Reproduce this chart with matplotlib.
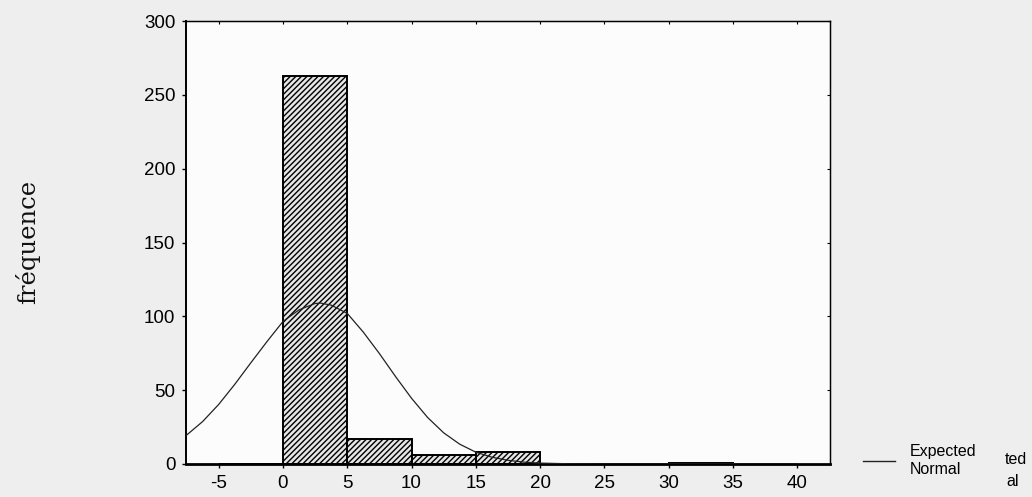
import matplotlib
matplotlib.use("Agg")
import matplotlib.pyplot as plt

# histogram classes (left edge of each 5-wide bin) and counts
bin_left = [-5, 0, 5, 10, 15, 20, 25, 30, 35]
counts = [0, 263, 17, 6, 8, 0, 0, 1, 0]
bin_width = 5

# expected normal curve
curve_x = [-7.5, -6.25, -5, -3.75, -2.5, -1.25, 0, 1.25, 2.5, 2.9, 3.75, 5, 6.25, 7.5,
	8.75, 10, 11.25, 12.5, 13.75, 15, 16.25, 17.5, 18.75, 20, 22.5, 25, 42.5]
curve_y = [19.5, 28.7, 40.3, 53.9, 68.5, 82.8, 96.5, 104.4, 108.7, 109, 107.6, 102, 89.3, 74.8,
	59.3, 44.5, 31.5, 21.1, 13.4, 8.0, 4.6, 2.5, 1.25, 0.6, 0.1, 0, 0]

x_ticks = [-5, 0, 5, 10, 15, 20, 25, 30, 35, 40]
y_ticks = [0, 50, 100, 150, 200, 250, 300]


def main():
	plt.rcParams['hatch.linewidth'] = 1.0
	plt.rcParams['axes.unicode_minus'] = False
	fig = plt.figure(figsize=(10.32, 4.97), dpi=100, facecolor='#eeeeee')
	ax = fig.add_axes([0.1807, 0.0664, 0.6231, 0.8913])
	ax.set_facecolor('#fcfcfc')

	# bars
	ax.bar(bin_left, counts, width=bin_width, align='edge', color='#e6e6e6',
		edgecolor='black', linewidth=1.4, hatch='//////', zorder=2)

	# expected normal
	line, = ax.plot(curve_x, curve_y, color='#222222', linewidth=0.9, zorder=3)

	ax.set_xlim(-7.5, 42.5)
	ax.set_ylim(0, 300)
	ax.set_xticks(x_ticks)
	ax.set_yticks(y_ticks)
	ax.tick_params(axis='both', labelsize=13.5, length=3, width=1, direction='out',
		colors='black', pad=5)
	for lab in ax.get_xticklabels() + ax.get_yticklabels():
		lab.set_fontfamily('Liberation Sans')

	# small inner ticks on top and right like the original
	ax2 = ax.secondary_xaxis('top')
	ax2.set_xticks(x_ticks)
	ax2.tick_params(direction='in', length=2.5, labeltop=False)
	ax3 = ax.secondary_yaxis('right')
	ax3.set_yticks(y_ticks)
	ax3.tick_params(direction='in', length=2.5, labelright=False)
	ax.spines['top'].set_linewidth(1.0)
	ax.spines['right'].set_linewidth(1.0)
	ax.spines['left'].set_linewidth(1.4)
	ax.spines['bottom'].set_linewidth(2.0)

	fig.text(0.027, 0.513, 'fréquence', rotation=90, fontsize=17.5,
		family='DejaVu Serif', va='center', ha='center', color='#111111')

	# legend
	leg = ax.legend([line], ['Expected\nNormal'], loc='center left',
		bbox_to_anchor=(1.03, 0.008), frameon=False, fontsize=11.5,
		handlelength=2.0, handletextpad=0.9)
	leg.get_lines()[0].set_linewidth(1.0)
	for t in leg.get_texts():
		t.set_fontfamily('Liberation Sans')
		t.set_linespacing(1.25)

	# leftover pieces of a second legend copy at the right edge
	fig.text(0.9735, 1 - 460 / 497, 'ted', fontsize=11.5, family='Liberation Sans',
		ha='left', va='center')
	fig.text(0.9755, 1 - 482 / 497, 'al', fontsize=11.5, family='Liberation Sans',
		ha='left', va='center')

	plt.savefig("out.png", dpi=100, facecolor=fig.get_facecolor())


main()
